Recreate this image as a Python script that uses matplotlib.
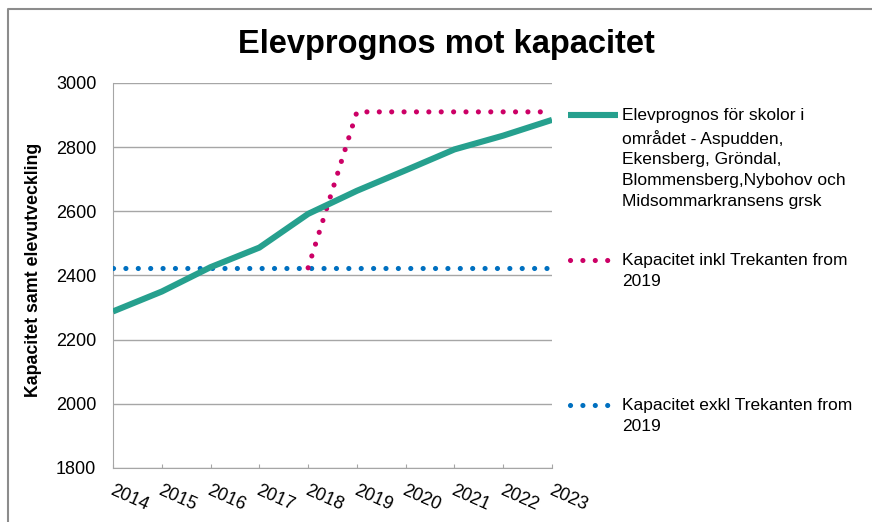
import matplotlib.pyplot as plt
from matplotlib.lines import Line2D
import numpy as np

plt.rcParams['font.family'] = ['Liberation Sans', 'DejaVu Sans']

# data
years = ['2014', '2015', '2016', '2017', '2018', '2019', '2020', '2021', '2022', '2023']
elevprognos = [2288, 2350, 2426, 2487, 2592, 2664, 2728, 2793, 2836, 2885]
kap_inkl = [None, None, None, None, 2424, 2910, 2910, 2910, 2910, 2910]
kap_exkl = [2424, 2424, 2424, 2424, 2424, 2424, 2424, 2424, 2424, 2424]

labels = ['Elevprognos för skolor i\nområdet - Aspudden,\nEkensberg, Gröndal,\nBlommensberg,Nybohov och\nMidsommarkransens grsk',
          'Kapacitet inkl Trekanten from\n2019',
          'Kapacitet exkl Trekanten from\n2019']
colors = ['#26a08e', '#cc0066', '#0070c0']

W, H = 872, 522
fig = plt.figure(figsize=(W / 100, H / 100), dpi=100)
ax = fig.add_axes([113 / W, 1 - 468 / H, (552 - 113) / W, (468 - 83) / H])

x = np.arange(len(years))
dot_lw = 3.7
dots = (0, (0.01, 2.4))

inkl = np.array([np.nan if v is None else v for v in kap_inkl], dtype=float)
ax.plot(x, kap_exkl, color=colors[2], lw=dot_lw, linestyle=dots, dash_capstyle='round', zorder=3)
ax.plot(x, inkl, color=colors[1], lw=dot_lw, linestyle=dots, dash_capstyle='round', zorder=3)
ax.plot(x, elevprognos, color=colors[0], lw=4.4, solid_capstyle='butt', zorder=4)

ax.set_xlim(0, len(years) - 1)
ax.set_ylim(1800, 3000)
ax.set_yticks(np.arange(1800, 3001, 200))
ax.yaxis.grid(True, color='#a6a6a6', lw=1.0)
ax.set_axisbelow(True)
for s in ['top', 'right']:
    ax.spines[s].set_visible(False)
for s in ['left', 'bottom']:
    ax.spines[s].set_color('#a6a6a6')
ax.tick_params(axis='y', length=0, labelsize=13, pad=12)
ax.tick_params(axis='x', direction='in', length=3, color='#a6a6a6', labelbottom=False)
ax.set_xticks(x)

# rotated year labels
for i, yr in enumerate(years):
    ax.annotate(yr, xy=(i, 0), xycoords=('data', 'axes fraction'),
                xytext=(11.5, -21.5), textcoords='offset points',
                rotation=-24, rotation_mode='anchor', ha='center', va='center',
                fontsize=13)

fig.text(33 / W, 1 - 270 / H, 'Kapacitet samt elevutveckling', rotation=90,
         ha='center', va='center', fontsize=12.8, fontweight='bold')
fig.text(446 / W, 1 - 53 / H, 'Elevprognos mot kapacitet', ha='center', va='baseline',
         fontsize=23.5, fontweight='bold')

# legend, drawn by hand to get Excel-like placement
leg_y = [115, 260, 405]
leg_x = [(568, 618), (570, 610), (570, 610)]
styles = [dict(lw=4.4, solid_capstyle='butt'),
          dict(lw=dot_lw, linestyle=dots, dash_capstyle='round'),
          dict(lw=dot_lw, linestyle=dots, dash_capstyle='round')]
for lab, c, yy, (x0, x1), st in zip(labels, colors, leg_y, leg_x, styles):
    yf = 1 - yy / H
    fig.add_artist(Line2D([x0 / W, x1 / W], [yf, yf], color=c, transform=fig.transFigure, **st))
    fig.text(622 / W, 1 - (yy - 7) / H, lab, ha='left', va='top', fontsize=12.5, linespacing=1.48)

# chart border (only top and left visible in the reference)
fig.add_artist(Line2D([8 / W, 8 / W, 1], [0, 1 - 9 / H, 1 - 9 / H], color='#8c8c8c', lw=1.5,
                      transform=fig.transFigure))

fig.savefig('out.png', dpi=100)
